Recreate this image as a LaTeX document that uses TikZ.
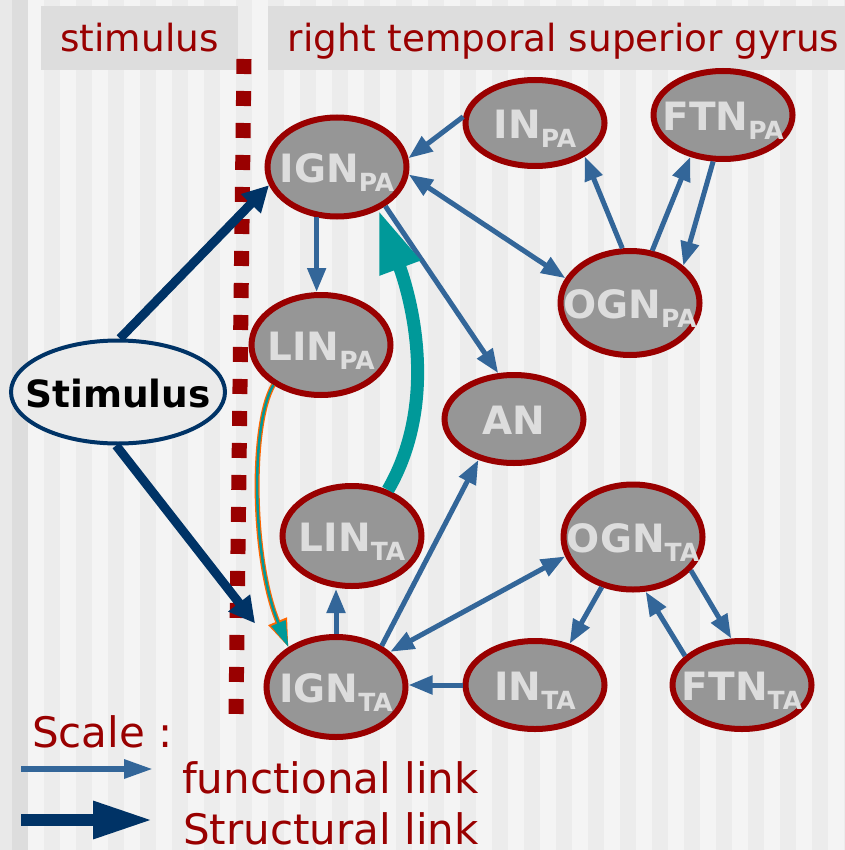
\documentclass[tikz,border=0pt]{standalone}
\usepackage{fontspec}
\setmainfont{DejaVu Sans}
\usepackage{tikz}
\usetikzlibrary{arrows.meta,shapes.geometric}
\definecolor{dred}{HTML}{990000}
\definecolor{navy}{HTML}{003366}
\definecolor{fblue}{HTML}{336699}
\definecolor{tealc}{HTML}{009999}
\definecolor{orng}{HTML}{FF6600}
\definecolor{ngray}{HTML}{969696}
\definecolor{ntext}{HTML}{DDDDDD}
\definecolor{bgl}{HTML}{F4F4F4}
\definecolor{bgd}{HTML}{ECECEC}
\definecolor{bge}{HTML}{E9E9E9}
\definecolor{hdr}{HTML}{DDDDDD}
\definecolor{stfill}{HTML}{EBEBEB}
\newcommand{\nlab}[2]{\makebox[0pt]{#1\raisebox{-9pt}{\fontsize{25}{25}\selectfont #2}}}

\begin{document}
\begin{tikzpicture}[x=1pt, y=-1pt,
  gn/.style={ellipse, draw=dred, fill=ngray, line width=6pt, inner sep=0pt,
             minimum width=139pt, text=ntext, text height=31pt, text depth=0pt,
             font=\fontsize{39}{39}\selectfont\bfseries},
  hbox/.style={fill=hdr, text=dred, inner sep=0pt, minimum height=64pt,
               text height=28pt, text depth=0pt, font=\fontsize{37.4}{37.4}\selectfont},
  leg/.style={anchor=base west, inner sep=0pt, text=dred,
              font=\fontsize{42}{42}\selectfont},
  fun/.style={-{Triangle[length=24pt,width=18pt]}, line width=5pt, fblue},
  funb/.style={{Triangle[length=24pt,width=18pt]}-{Triangle[length=24pt,width=18pt]},
               line width=5pt, fblue},
  str/.style={-{Triangle[length=26pt,width=26pt]}, line width=9pt, navy}
]
\useasboundingbox (0,0) rectangle (844,850);
% Background stripes
\fill[bgl] (0,0) rectangle (844,850);
\fill[bge] (0,0) rectangle (12,850);
\fill[hdr] (12,0) rectangle (28,850);
\foreach \x in {44,76,...,844}
  \fill[bgd] (\x,0) rectangle ++(16,850);
% Headers
\node[hbox, minimum width=197pt] (hstim) at (139.5,38) {stimulus};
\node[hbox, minimum width=591pt] (hgyr) at (563.5,38)
  {right temporal superior gyrus};
\draw[dred, line width=15pt, dash pattern=on 15pt off 17pt] (244,59) -- (236,714);
% Stimulus
\node[ellipse, draw=navy, fill=stfill, line width=4pt, inner sep=0pt,
      minimum width=214pt, minimum height=103pt, text height=30pt, text depth=0pt,
      font=\fontsize{37.5}{37.5}\selectfont\bfseries] (stim) at (118,392)
  {\makebox[0pt]{Stimulus}};
% PA nodes
\node[gn, minimum height=99pt] (ignpa) at (337,167) {\nlab{IGN}{PA}};
\node[gn, minimum height=86pt] (inpa) at (535,123) {\nlab{IN}{PA}};
\node[gn, minimum height=88pt] (ftnpa) at (723,115) {\nlab{FTN}{PA}};
\node[gn, minimum height=104pt] (ognpa) at (630,303) {\nlab{OGN}{PA}};
\node[gn, minimum height=100pt] (linpa) at (321,345) {\nlab{LIN}{PA}};
\node[gn, minimum height=88pt] (an) at (514,419) {\nlab{AN}{}};
% TA nodes
\node[gn, minimum height=100pt] (linta) at (352,536) {\nlab{LIN}{TA}};
\node[gn, minimum height=105pt] (ognta) at (633,537) {\nlab{OGN}{TA}};
\node[gn, minimum height=100pt] (ignta) at (336,687) {\nlab{IGN}{TA}};
\node[gn, minimum height=88pt] (inta) at (535,685) {\nlab{IN}{TA}};
\node[gn, minimum height=88pt] (ftnta) at (742,685) {\nlab{FTN}{TA}};
% Structural links
\draw[str] (stim.88) -- (ignpa.195);
\draw[str, shorten >=39pt] (stim.268) -- (ignta.150);
% Functional links
\draw[fun] (inpa.175) -- (ignpa.7);
\draw[funb] (ignpa.354) -- (ognpa.159);
\draw[fun] (ignpa.248) -- (ignpa.248 |- linpa.north);
\draw[fun] (ignpa.321) -- (an.109);
\draw[fun] (ognpa.98) -- (inpa.326);
\draw[fun] (ognpa.67) -- (ftnpa.232);
\draw[fun] (ftnpa.258) -- (ognpa.35);
\draw[fun] (ignta.north) -- (ignta.north |- linta.south);
\draw[fun] (ignta.42) -- (an.229);
\draw[funb] (ignta.33) -- (ognta.196);
\draw[fun] (inta.west) -- (inta.west -| ignta.east);
\draw[fun] (ognta.238) -- (inta.50);
\draw[fun] (ognta.330) -- (ftnta.103);
\draw[fun] (ftnta.153) -- (ognta.283);
% LIN links
\draw[tealc, line width=13pt, -{Triangle[length=62pt,width=40pt]}]
  (linta.52) .. controls (440,400) and (410,295) .. (ignpa.314);
\draw[orng, line width=5pt, -{Triangle[length=28pt,width=19pt]}]
  (linpa.220) .. controls (250,425) and (252,560) .. (ignta.140);
\draw[tealc, line width=2.5pt, -{Triangle[length=26pt,width=15pt]}]
  (linpa.220) .. controls (250,425) and (252,560) .. (ignta.140);
% Scale
\node[leg] (scale) at (32,747) {Scale :};
\node[leg] (funlbl) at (182,793) {functional link};
\node[leg] (strlbl) at (183,844) {Structural link};
\coordinate (fa) at (21,769);
\coordinate (fb) at (153,769);
\coordinate (sa) at (21,820);
\coordinate (sb) at (153,820);
\draw[fblue, line width=6pt, -{Triangle[length=29pt,width=18pt]}] (fa) -- (fb);
\draw[navy, line width=12pt, -{Triangle[length=60pt,width=35pt]}] (sa) -- (sb);
\end{tikzpicture}
\end{document}
